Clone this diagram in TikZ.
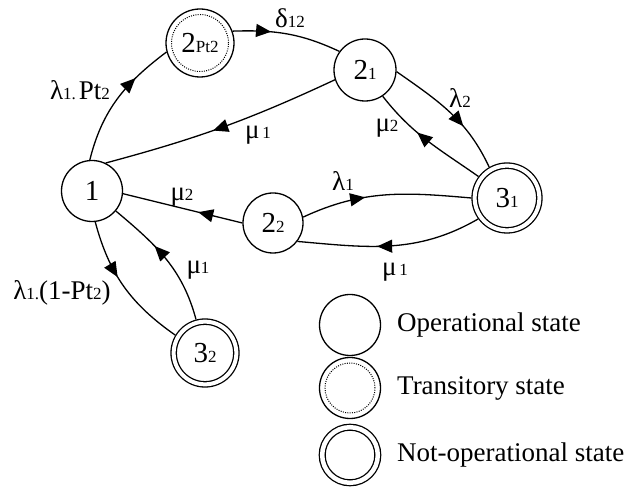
\documentclass[tikz,border=0pt]{standalone}
\usepackage{fontspec}
\setmainfont{Liberation Serif}
\usetikzlibrary{arrows.meta,decorations.markings}
\newcommand{\smalltxt}[1]{{\fontsize{17bp}{17bp}\selectfont #1}}
\begin{document}
\begin{tikzpicture}[line join=bevel,
  every node/.style={font=\fontsize{27bp}{30bp}\selectfont},
  stbox/.style={draw=black,circle,line width=1.3bp,inner sep=0pt,outer sep=0.65bp,minimum size=#1,font=\fontsize{29bp}{30bp}\selectfont},
  notop/.style={stbox=#1,double,double distance=4bp,outer sep=3.3bp},
  transit/.style={stbox=#1,path picture={\draw[black,line width=1bp,dash pattern=on 1bp off 1.3bp] (path picture bounding box.center) circle [radius=0.5*#1-5.5bp];}},
  link/.style={draw=black,line width=1.3bp},
  midarrow/.style={postaction={decorate},decoration={markings,mark=at position #1 with {\arrow{Triangle[length=15bp,width=13bp]}}}},
]
%%
\useasboundingbox (0bp,0bp) rectangle (633bp,499bp);
\node (one) at (92bp,308bp) [stbox=61bp] {1};
  \node (two_pt) at (200bp,456bp) [transit=68bp] {2\smalltxt{Pt2}};
  \node (two_1) at (365bp,429bp) [stbox=62bp] {2\smalltxt{1}};
  \node (three_1) at (507bp,301bp) [notop=64.7bp] {3\smalltxt{1}};
  \node (two_2) at (273bp,276bp) [stbox=60bp] {2\smalltxt{2}};
  \node (three_2) at (205bp,146bp) [notop=62.7bp] {3\smalltxt{2}};
  \node (lab_pt) at (80bp,409bp) {λ\smalltxt{1.}\hspace{3bp}Pt\smalltxt{2}};
  \node (lab_delta) at (290bp,481bp) {δ\smalltxt{12}};
  \node (lab_mu1a) at (258bp,364bp) {μ\hspace{3bp}\smalltxt{1}};
  \node (lab_lam2) at (460bp,401bp) {λ\smalltxt{2}};
  \node (lab_mu2a) at (387bp,371bp) {μ\smalltxt{2}};
  \node (lab_lam1) at (343bp,318bp) {λ\smalltxt{1}};
  \node (lab_mu1b) at (395bp,227bp) {μ\hspace{3bp}\smalltxt{1}};
  \node (lab_mu2b) at (182bp,302bp) {μ\smalltxt{2}};
  \node (lab_mu1c) at (198bp,229bp) {μ\smalltxt{1}};
  \node (lab_lamc) at (62bp,206bp) {λ\smalltxt{1.}(1-Pt\smalltxt{2})};
  \node (key_op) at (350bp,174bp) [stbox=61bp] {};
  \node (key_tr) at (350bp,111bp) [transit=61bp] {};
  \node (key_no) at (350bp,44bp) [notop=55.6bp,double distance=4.5bp] {};
  \node (key_op_txt) at (397bp,174bp) [anchor=west,inner sep=0pt] {Operational state};
  \node (key_tr_txt) at (397bp,111bp) [anchor=west,inner sep=0pt] {Transitory state};
  \node (key_no_txt) at (397bp,44bp) [anchor=west,inner sep=0pt] {Not-operational state};
  \draw [link,midarrow=0.7] (one.94) to[out=76,in=217] (two_pt.195);
  \draw [link,midarrow=0.35] (two_pt.20) to[out=2,in=155] (two_1.144);
  \draw [link,midarrow=0.54] (two_1.198) to[out=205,in=15] (one.64);
  \draw [link,midarrow=0.64] (two_1.357) to[out=-35,in=115] (three_1.120);
  \draw [link,midarrow=0.6] (three_1.143) to[out=145,in=-52] (two_1.304);
  \draw [link,midarrow=0.38] (two_2.11) to[out=25,in=175] (three_1.180);
  \draw [link,midarrow=0.57] (three_1.216) to[out=210,in=-5] (two_2.323);
  \draw [link,midarrow=0.37] (two_2.180) -- (one.-5);
  \draw [link,midarrow=0.62] (three_2.105) to[out=105,in=-40] (one.320);
  \draw [link,midarrow=0.42] (one.276) to[out=-75,in=145] (three_2.149);
%
\end{tikzpicture}
\end{document}
